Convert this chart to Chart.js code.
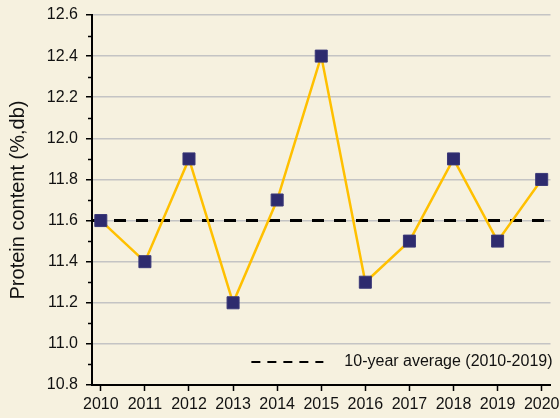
<!DOCTYPE html>
<html>
<head>
<meta charset="utf-8">
<script src="https://cdn.jsdelivr.net/npm/chart.js@4.4.0/dist/chart.umd.min.js"></script>
<style>
  html, body { margin: 0; padding: 0; background: #F6F1DF; }
  #wrap { width: 560px; height: 418px; }
</style>
</head>
<body>
<div id="wrap"><canvas id="chart" width="560" height="418"></canvas></div>
<script>
// ============ DATA ============
const years = [2010, 2011, 2012, 2013, 2014, 2015, 2016, 2017, 2018, 2019, 2020];
const protein = [11.6, 11.4, 11.9, 11.2, 11.7, 12.4, 11.3, 11.5, 11.9, 11.5, 11.8];
const averageValue = 11.6;
const averageLabel = '10-year average (2010-2019)';
const yTicks = [10.8, 11.0, 11.2, 11.4, 11.6, 11.8, 12.0, 12.2, 12.4, 12.6];

const X_MIN = 2009.8;
const X_MAX = 2020.2;
const FONT = '"Liberation Sans", Arial, sans-serif';

// ============ PLUGINS ============
const background = {
    id: 'background',
    beforeDraw(chart) {
        const ctx = chart.ctx;
        ctx.save();
        ctx.fillStyle = '#F6F1DF';
        ctx.fillRect(0, 0, chart.width, chart.height);
        ctx.restore();
    }
};

// minor ticks on the y axis, halfway between labels
const minorTicks = {
    id: 'minorTicks',
    afterDraw(chart) {
        const y = chart.scales.y;
        const ctx = chart.ctx;
        ctx.save();
        ctx.strokeStyle = '#000';
        ctx.lineWidth = 1.5;
        for (let i = 0; i < yTicks.length - 1; i++) {
            const v = (yTicks[i] + yTicks[i + 1]) / 2;
            const py = Math.round(y.getPixelForValue(v)) + 0.5;
            ctx.beginPath();
            ctx.moveTo(y.right - 4, py);
            ctx.lineTo(y.right, py);
            ctx.stroke();
        }
        ctx.restore();
    }
};

// legend sitting inside the plot, bottom right
const insideLegend = {
    id: 'insideLegend',
    afterDraw(chart) {
        const area = chart.chartArea;
        const ctx = chart.ctx;
        ctx.save();
        ctx.font = '16px ' + FONT;
        ctx.fillStyle = '#111';
        ctx.textAlign = 'right';
        ctx.textBaseline = 'middle';
        const ty = area.bottom - 23;
        const tx = area.right + 2;
        ctx.fillText(averageLabel, tx, ty);
        const w = ctx.measureText(averageLabel).width;
        const lineEnd = tx - w - 21;
        ctx.strokeStyle = '#000';
        ctx.lineWidth = 2;
        ctx.setLineDash([9, 7]);
        ctx.beginPath();
        ctx.moveTo(lineEnd - 72, ty);
        ctx.lineTo(lineEnd, ty);
        ctx.stroke();
        ctx.restore();
    }
};

// ============ CHART ============
const ctx = document.getElementById('chart').getContext('2d');

new Chart(ctx, {
    type: 'line',
    data: {
        datasets: [
            {
                label: 'Protein',
                data: years.map((yr, i) => ({ x: yr, y: protein[i] })),
                borderColor: '#FFC000',
                borderWidth: 2.5,
                pointStyle: 'rect',
                pointRadius: 8.5,
                pointBackgroundColor: '#2E2B6E',
                pointBorderColor: '#3A3878',
                pointBorderWidth: 1,
                tension: 0,
                order: 0
            },
            {
                label: averageLabel,
                data: [{ x: X_MIN, y: averageValue }, { x: X_MAX, y: averageValue }],
                borderColor: '#000',
                borderWidth: 3,
                borderDash: [12, 10],
                pointRadius: 0,
                order: 1
            }
        ]
    },
    options: {
        responsive: false,
        animation: false,
        layout: { padding: { left: 0, right: 7, top: 15, bottom: 0 } },
        plugins: {
            legend: { display: false },
            tooltip: { enabled: false }
        },
        scales: {
            x: {
                type: 'linear',
                min: X_MIN,
                max: X_MAX,
                afterBuildTicks(scale) {
                    scale.ticks = years.map(v => ({ value: v }));
                },
                afterFit(scale) {
                    scale.height = 33;
                    scale.paddingLeft = 0;
                    scale.paddingRight = 0;
                },
                ticks: {
                    color: '#111',
                    font: { family: FONT, size: 16 },
                    padding: 4,
                    maxRotation: 0,
                    callback: v => String(v)
                },
                grid: {
                    drawOnChartArea: false,
                    drawTicks: true,
                    tickLength: 6,
                    tickColor: '#000',
                    tickWidth: 1.5
                },
                border: { color: '#000', width: 2 }
            },
            y: {
                min: 10.8,
                max: 12.6,
                afterBuildTicks(scale) {
                    scale.ticks = yTicks.map(v => ({ value: v }));
                },
                afterFit(scale) {
                    scale.width = 92;
                    scale.paddingTop = 0;
                    scale.paddingBottom = 0;
                },
                ticks: {
                    color: '#111',
                    font: { family: FONT, size: 16 },
                    padding: 8,
                    callback: v => v.toFixed(1)
                },
                grid: {
                    color: ctx => ctx.tick && ctx.tick.value === 10.8 ? 'rgba(0,0,0,0)' : '#C4C4C4',
                    lineWidth: 1.5,
                    tickLength: 6,
                    tickColor: '#000',
                    tickWidth: 1.5
                },
                border: { color: '#000', width: 2 },
                title: {
                    display: true,
                    text: 'Protein content (%,db)',
                    color: '#111',
                    font: { family: FONT, size: 20 },
                    padding: { top: 6, bottom: 0 }
                }
            }
        }
    },
    plugins: [background, minorTicks, insideLegend]
});
</script>
</body>
</html>
